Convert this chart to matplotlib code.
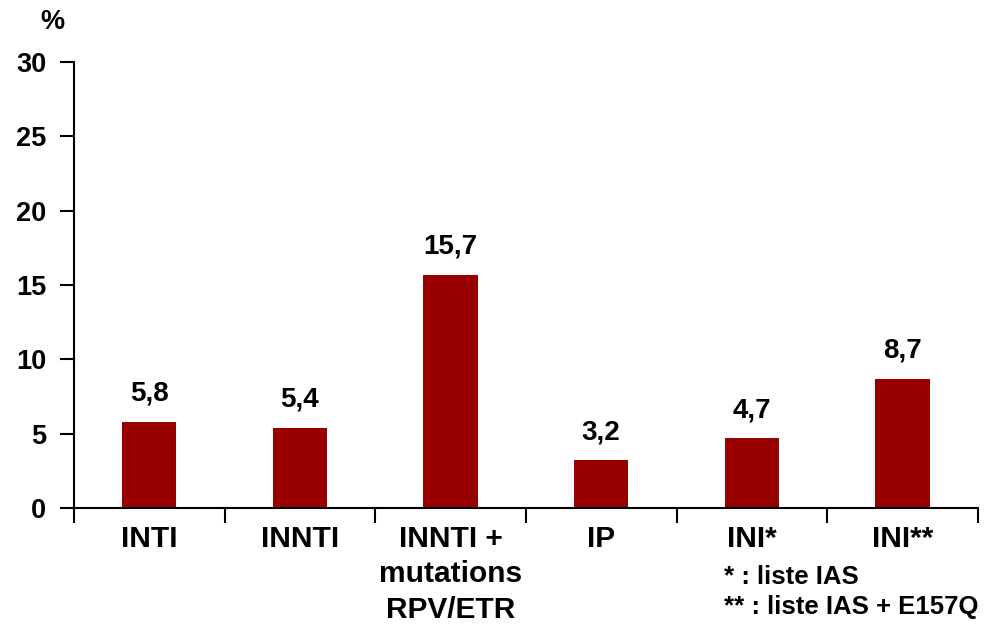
import numpy as np
import matplotlib.pyplot as plt
from matplotlib.ticker import FixedLocator

categories = ["INTI", "INNTI", "INNTI +\nmutations\nRPV/ETR", "IP", "INI*", "INI**"]
values = [5.8, 5.4, 15.7, 3.2, 4.7, 8.7]
value_labels = ["5,8", "5,4", "15,7", "3,2", "4,7", "8,7"]
notes = ["* : liste IAS", "** : liste IAS + E157Q"]

plt.rcParams['font.family'] = ['Liberation Sans', 'DejaVu Sans']
plt.rcParams['font.weight'] = 'bold'

fig = plt.figure(figsize=(9.9, 6.27), dpi=100)
ax = fig.add_axes([0.0747, 0.1898, 0.913, 0.7113])

x = np.arange(len(categories))
ax.bar(x, values, width=0.36, color="#990000")
for xi, v, lab in zip(x, values, value_labels):
    ax.text(xi, v + 1.0, lab, ha="center", va="bottom", fontsize=20, fontweight="bold")

ax.set_xlim(-0.5, len(categories) - 0.5)
ax.set_ylim(0, 30)
ax.set_yticks([0, 5, 10, 15, 20, 25, 30])
ax.tick_params(axis="y", direction="out", length=10, width=1.5, labelsize=19.5, pad=10)

ax.set_xticks(x)
ax.set_xticklabels(categories, fontsize=21.5, fontweight="bold", linespacing=1.35)
ax.tick_params(axis="x", length=0, pad=12)
ax.xaxis.set_minor_locator(FixedLocator(np.arange(-0.5, len(categories), 1.0)))
ax.tick_params(axis="x", which="minor", direction="out", length=11, width=1.5)

for side in ("top", "right"):
    ax.spines[side].set_visible(False)
for side in ("left", "bottom"):
    ax.spines[side].set_linewidth(1.5)

fig.text(52 / 990, 1 - 22 / 627, "%", ha="center", va="center", fontsize=19.5, fontweight="bold")
fig.text(724 / 990, 1 - 577 / 627, notes[0], ha="left", va="center", fontsize=18.5, fontweight="bold")
fig.text(724 / 990, 1 - 607 / 627, notes[1], ha="left", va="center", fontsize=18.5, fontweight="bold")

fig.savefig("out.png", dpi=100)
